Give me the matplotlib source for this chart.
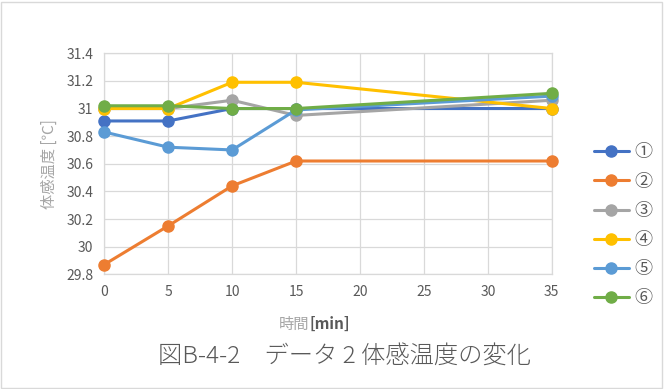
import matplotlib
matplotlib.use("Agg")
import matplotlib.pyplot as plt
from matplotlib.patches import Rectangle

plt.rcParams['font.family'] = ['Noto Sans CJK JP', 'DejaVu Sans']

# data
minutes = [0, 5, 10, 15, 35]
s1 = [30.91, 30.91, 31.00, 31.00, 31.00]
s2 = [29.87, 30.15, 30.44, 30.62, 30.62]
s3 = [31.00, 31.00, 31.06, 30.95, 31.06]
s4 = [31.00, 31.00, 31.19, 31.19, 31.00]
s5 = [30.83, 30.72, 30.70, 30.99, 31.09]
s6 = [31.02, 31.02, 31.00, 31.00, 31.11]
labels = ['①', '②', '③', '④', '⑤', '⑥']
colors = ['#4472C4', '#ED7D31', '#A5A5A5', '#FFC000', '#5B9BD5', '#70AD47']
xticks = [0, 5, 10, 15, 20, 25, 30, 35]
yticks = [29.8, 30, 30.2, 30.4, 30.6, 30.8, 31, 31.2, 31.4]
ytick_labels = ['29.8', '30', '30.2', '30.4', '30.6', '30.8', '31', '31.2', '31.4']

fig = plt.figure(figsize=(6.64, 3.89), dpi=100)
ax = fig.add_axes([0.157, 0.295, 0.674, 0.568])

for ys, lab, c in zip([s1, s2, s3, s4, s5, s6], labels, colors):
    ax.plot(minutes, ys, color=c, lw=2.2, marker='o', ms=8, label=lab,
            solid_capstyle='round', clip_on=False, zorder=3)

ax.set_xlim(0, 35)
ax.set_ylim(29.8, 31.4)
ax.set_xticks(xticks)
ax.set_yticks(yticks)
ax.set_yticklabels(ytick_labels)
ax.grid(True, color='#d9d9d9', lw=0.9)
ax.set_axisbelow(True)
for sp in ax.spines.values():
    sp.set_color('#d9d9d9')
    sp.set_linewidth(0.9)
ax.tick_params(length=0, labelsize=10, labelcolor='#595959', pad=8)

ax.set_ylabel('体感温度 [℃]', fontsize=11, color='#a6a6a6', labelpad=6)
fig.text(0.466, 0.167, '時間', fontsize=11, color='#a6a6a6', ha='right', va='center')
fig.text(0.466, 0.167, '[min]', fontsize=11, color='#595959', ha='left', va='center',
         fontweight='bold')
fig.text(0.518, 0.082, '図B-4-2　データ 2 体感温度の変化', fontsize=17.5,
         color='#595959', ha='center', va='center', fontweight='light')

leg = ax.legend(loc='upper left', bbox_to_anchor=(0.870, 0.673),
                bbox_transform=fig.transFigure, frameon=False, fontsize=13,
                handlelength=1.94, handletextpad=0.3, labelspacing=0.62,
                labelcolor='#595959')

fig.patches.append(Rectangle((0.002, 0.003), 0.995, 0.993, transform=fig.transFigure,
                             fill=False, edgecolor='#d9d9d9', lw=1))

fig.savefig('out.png', dpi=100)
